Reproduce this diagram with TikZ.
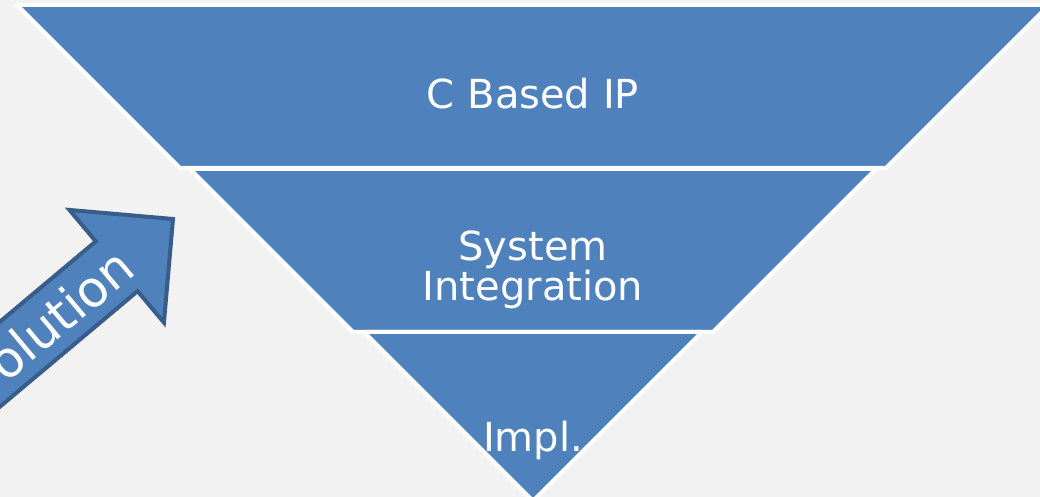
\documentclass[tikz,border=0pt]{standalone}
\usepackage{fontspec}
\setmainfont{DejaVu Sans}
\definecolor{bandblue}{HTML}{4F81BD}
\definecolor{arrowedge}{HTML}{385D8A}
\definecolor{paper}{HTML}{F2F2F2}
\begin{document}
\begin{tikzpicture}[x=1pt,y=1pt,
  band/.style={fill=bandblue, draw=white, line width=4pt, line join=round},
  bandtext/.style={text=white, font=\fontsize{40}{41}\selectfont, inner sep=0pt, anchor=base},
  bigarrow/.style={fill=bandblue, draw=arrowedge, line width=4pt, line join=miter},
  arrowtext/.style={text=white, font=\fontsize{50}{51}\selectfont, inner sep=0pt, anchor=base, transform shape}]
% page and clipping frame
\fill[paper] (0,0) rectangle (1040,497);
\useasboundingbox (0,0) rectangle (1040,497);
\clip (0,0) rectangle (1040,497);

% inverted pyramid, three bands
\draw[band] (17,492) -- (1049,492) -- (886,329) -- (180,329) -- cycle;
\draw[band] (190,328) -- (876,328) -- (713,165) -- (353,165) -- cycle;
\draw[band] (364,165) -- (702,165) -- (533,-4) -- cycle;

% band labels
\node[bandtext] (ip)    at (533,388) {C Based IP};
\node[bandtext] (sys)   at (533,236) {System};
\node[bandtext] (integ) at (533,196) {Integration};
\node[bandtext] (impl)  at (533,45) {Impl.};

% block arrow pointing up-right
\begin{scope}[shift={(173,278)}, rotate=40]
  \draw[bigarrow] (0,0) -- (-73.5,73.5) -- (-73.5,32.5) -- (-500,32.5)
        -- (-500,-32.5) -- (-73.5,-32.5) -- (-73.5,-73.5) -- cycle;
  \node[arrowtext] (evo) at (-178,-19) {Evolution};
\end{scope}
\end{tikzpicture}
\end{document}
